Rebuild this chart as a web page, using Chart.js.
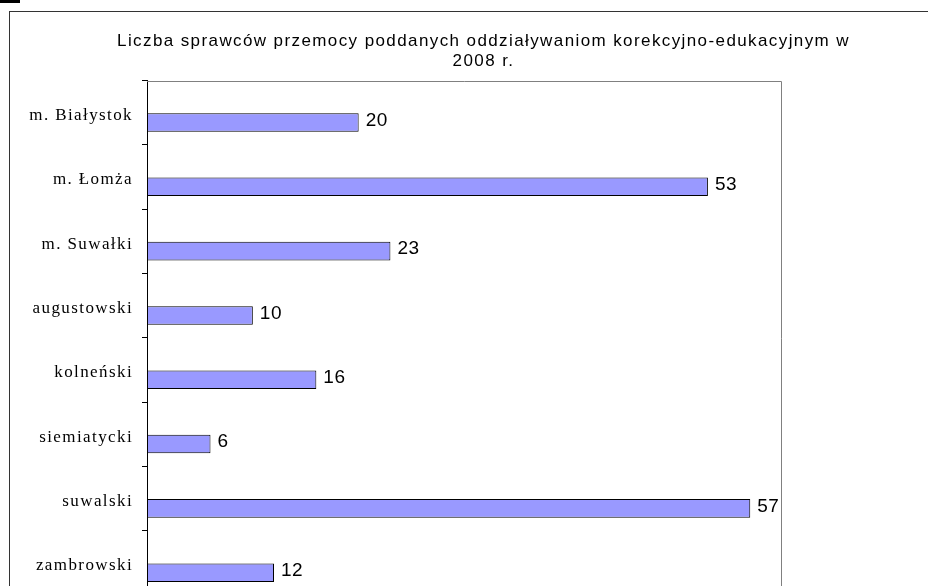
<!DOCTYPE html>
<html lang="pl">
<head>
<meta charset="utf-8">
<title>Sprawcy przemocy 2008</title>
<script src="https://cdn.jsdelivr.net/npm/chart.js@4.4.1/dist/chart.umd.min.js"></script>
<style>
    html, body { margin: 0; padding: 0; background: #fff; overflow: hidden; }
    #znacznik { position: absolute; left: 0; top: 0; width: 20px; height: 3px; background: #000; }
    #ramka { position: absolute; left: 9px; top: 11px; width: 960px; height: 700px; border: 1px solid #333; }
    #wykres { position: absolute; left: 0; top: 0; }
</style>
</head>
<body>
<div id="znacznik"></div>
<div id="ramka">
    <canvas id="wykres" width="947" height="620"></canvas>
</div>
<script>
// dane
const kategorie = ['m. Białystok', 'm. Łomża', 'm. Suwałki', 'augustowski', 'kolneński', 'siemiatycki', 'suwalski', 'zambrowski'];
const liczbaSprawcow = [20, 53, 23, 10, 16, 6, 57, 12];
// druga seria w arkuszu jest pusta (zajmuje tylko miejsce w grupie)
const seriaPusta = [null, null, null, null, null, null, null, null];
const tytul = ['Liczba sprawców przemocy poddanych oddziaływaniom korekcyjno-edukacyjnym w', '2008 r.'];
const osXMin = 0;
const osXMax = 60;

const czcionkaSans = "'Liberation Sans', Arial, sans-serif";
const czcionkaSerif = "'Liberation Serif', 'Times New Roman', serif";

// ramka obszaru kreślenia (szara, jak w Excelu) + etykiety wartości
const pluginRamka = {
    id: 'ramkaObszaru',
    beforeDraw(chart) {
        // szerszy odstęp liter dla tytułu
        chart.ctx.letterSpacing = '1.4px';
    },
    beforeDatasetsDraw(chart) {
        const { ctx, chartArea: a } = chart;
        ctx.save();
        ctx.strokeStyle = '#808080';
        ctx.lineWidth = 1;
        ctx.beginPath();
        ctx.moveTo(a.left, Math.round(a.top) + 0.5);
        ctx.lineTo(Math.round(a.right) - 0.5, Math.round(a.top) + 0.5);
        ctx.lineTo(Math.round(a.right) - 0.5, a.bottom);
        ctx.stroke();
        ctx.restore();
    },
    afterDatasetsDraw(chart) {
        const ctx = chart.ctx;
        const meta = chart.getDatasetMeta(1);
        ctx.save();
        ctx.letterSpacing = '0.5px';
        ctx.font = '19px ' + czcionkaSans;
        ctx.fillStyle = '#000';
        ctx.textAlign = 'left';
        ctx.textBaseline = 'middle';
        meta.data.forEach((bar, i) => {
            ctx.fillText(String(liczbaSprawcow[i]), bar.x + 7, bar.y - 2);
        });
        ctx.restore();
        // etykiety osi Y rysowane później (z: 1)
        ctx.letterSpacing = '0.8px';
    },
    afterDraw(chart) {
        chart.ctx.letterSpacing = '0px';
    }
};

const ctx = document.getElementById('wykres').getContext('2d');

new Chart(ctx, {
    type: 'bar',
    plugins: [pluginRamka],
    data: {
        labels: kategorie,
        datasets: [
            {
                label: 'pusta',
                data: seriaPusta
            },
            {
                label: 'Liczba sprawców',
                data: liczbaSprawcow,
                backgroundColor: '#9999FF',
                borderColor: '#000',
                borderWidth: 1,
                borderSkipped: false
            }
        ]
    },
    options: {
        indexAxis: 'y',
        responsive: false,
        animation: false,
        devicePixelRatio: 1,
        categoryPercentage: 0.613,
        barPercentage: 0.94,
        layout: {
            padding: { left: 0, right: 0, top: 0, bottom: 37 }
        },
        scales: {
            x: {
                display: false,
                min: osXMin,
                max: osXMax
            },
            y: {
                position: 'left',
                z: 1,
                grid: {
                    display: true,
                    drawOnChartArea: false,
                    drawTicks: true,
                    tickLength: 5,
                    color: '#000',
                    offset: true
                },
                border: { display: true, color: '#000', width: 1 },
                ticks: {
                    color: '#000',
                    padding: 9,
                    labelOffset: 3,
                    font: { family: czcionkaSerif, size: 17 }
                },
                afterFit(scale) { scale.width = 137; }
            },
            // pusta oś po prawej: zostawia miejsce, tytuł zostaje wyśrodkowany na całej ramce
            yPrawa: {
                type: 'category',
                position: 'right',
                display: true,
                ticks: { display: false },
                grid: { display: false },
                border: { display: false },
                afterFit(scale) { scale.width = 175; }
            }
        },
        plugins: {
            legend: { display: false },
            tooltip: { enabled: false },
            title: {
                display: true,
                text: tytul,
                color: '#000',
                font: { family: czcionkaSans, size: 17, weight: 'normal', lineHeight: 1.2 },
                padding: { top: 18.8, bottom: 8.9 }
            }
        }
    }
});
</script>
</body>
</html>
